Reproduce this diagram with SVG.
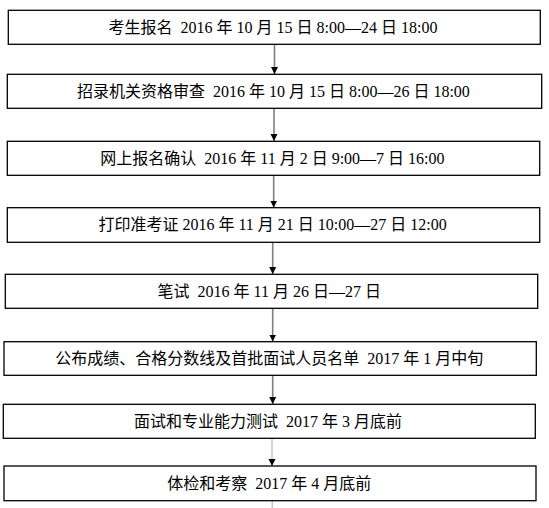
<svg xmlns="http://www.w3.org/2000/svg" width="549" height="508" viewBox="0 0 549 508">
<style>
  .box{fill:#fff;stroke:#000;stroke-width:1.3}
  .lbl{font-family:"Liberation Serif","Noto Sans CJK SC",serif;font-size:16px;fill:#000;text-anchor:middle;white-space:pre}
  .con{stroke:#7f7f7f;stroke-width:1.6;fill:none}
  .con.light{stroke:#c8c8c8}
</style>
<defs>
  <marker id="ah" markerUnits="userSpaceOnUse" markerWidth="8" markerHeight="8" refX="7" refY="4" orient="auto">
    <path d="M0,0.5 L7,4 L0,7.5 z" fill="#000"/>
  </marker>
</defs>
<rect width="549" height="508" fill="#fff"/>
<g id="connectors">
  <line class="con" x1="274.5" y1="44.5" x2="274.5" y2="74" marker-end="url(#ah)"/>
  <line class="con" x1="274" y1="108.5" x2="274" y2="141" marker-end="url(#ah)"/>
  <line class="con" x1="273.7" y1="175.5" x2="273.7" y2="207.5" marker-end="url(#ah)"/>
  <line class="con" x1="272.7" y1="242.5" x2="272.7" y2="274" marker-end="url(#ah)"/>
  <line class="con" x1="272.7" y1="308.5" x2="272.7" y2="341.5" marker-end="url(#ah)"/>
  <line class="con" x1="272.7" y1="375.5" x2="272.7" y2="404" marker-end="url(#ah)"/>
  <line class="con light" x1="272" y1="438.5" x2="272" y2="466" marker-end="url(#ah)"/>
  <line class="con light" x1="272.3" y1="501" x2="272.3" y2="508"/>
</g>
<g id="n1"><rect class="box" x="8.3" y="10.3" width="532" height="34"/><text class="lbl" x="273" y="32.5">考生报名  2016 年 10 月 15 日 8:00—24 日 18:00</text></g>
<g id="n2"><rect class="box" x="7.3" y="74.3" width="534.4" height="34"/><text class="lbl" x="273.4" y="96.5">招录机关资格审查  2016 年 10 月 15 日 8:00—26 日 18:00</text></g>
<g id="n3"><rect class="box" x="7.3" y="141.3" width="532.4" height="34"/><text class="lbl" x="272.4" y="163.5">网上报名确认  2016 年 11 月 2 日 9:00—7 日 16:00</text></g>
<g id="n4"><rect class="box" x="7.3" y="207.7" width="532.4" height="34.6"/><text class="lbl" x="272.6" y="230">打印准考证 2016 年 11 月 21 日 10:00—27 日 12:00</text></g>
<g id="n5"><rect class="box" x="5.3" y="274.3" width="532.4" height="34"/><text class="lbl" x="269.3" y="296.5">笔试  2016 年 11 月 26 日—27 日</text></g>
<g id="n6"><rect class="box" x="4" y="341.7" width="532.3" height="33.6"/><text class="lbl" x="269.3" y="364">公布成绩、合格分数线及首批面试人员名单  2017 年 1 月中旬</text></g>
<g id="n7"><rect class="box" x="3.3" y="404.3" width="532" height="34"/><text class="lbl" x="268" y="426.5">面试和专业能力测试  2017 年 3 月底前</text></g>
<g id="n8"><rect class="box" x="4" y="466" width="532" height="34.7"/><text class="lbl" x="269.3" y="488.5">体检和考察  2017 年 4 月底前</text></g>
</svg>
